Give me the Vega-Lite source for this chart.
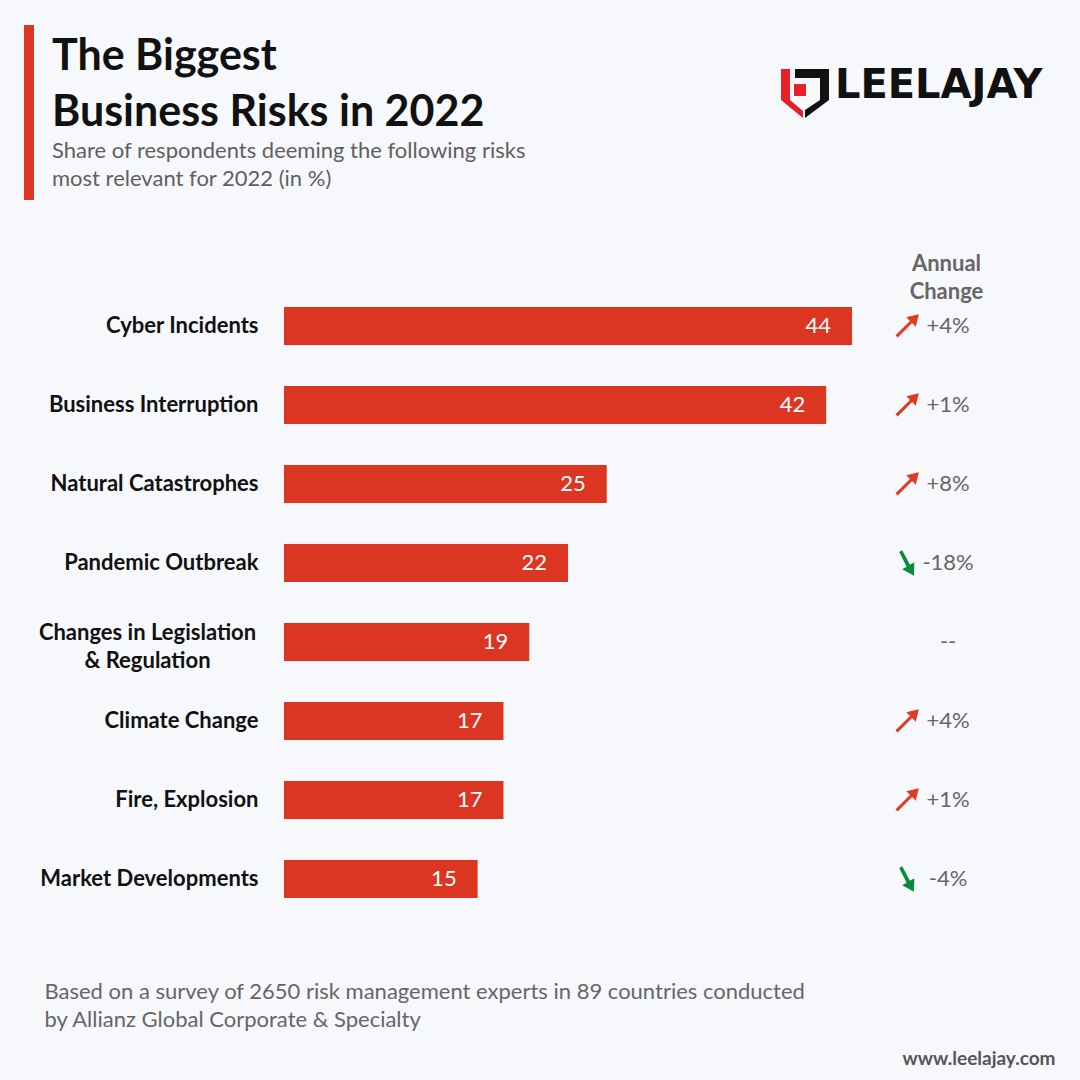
{
  "$schema": "https://vega.github.io/schema/vega-lite/v6.json",
  "width": 1080,
  "height": 1080,
  "autosize": "none",
  "padding": 0,
  "background": "#f7f8fc",
  "config": {"view": {"stroke": null}, "font": "Lato"},
  "title": {
    "text": ["The Biggest", "Business Risks in 2022"],
    "subtitle": ["Share of respondents deeming the following risks", "most relevant for 2022 (in %)"],
    "anchor": "start",
    "frame": "group",
    "orient": "top",
    "offset": -190,
    "dx": 52,
    "font": "Lato",
    "fontSize": 43,
    "fontWeight": "bold",
    "color": "#111111",
    "lineHeight": 56,
    "subtitleFont": "Lato",
    "subtitleFontSize": 22,
    "subtitleColor": "#5f5f5f",
    "subtitleLineHeight": 28,
    "subtitlePadding": 6
  },
  "datasets": {
    "risks": [
      {"risk": "Cyber Incidents", "value": 44, "change": "+4%", "trend": "up"},
      {"risk": "Business Interruption", "value": 42, "change": "+1%", "trend": "up"},
      {"risk": "Natural Catastrophes", "value": 25, "change": "+8%", "trend": "up"},
      {"risk": "Pandemic Outbreak", "value": 22, "change": "-18%", "trend": "down"},
      {"risk": "Changes in Legislation & Regulation", "value": 19, "change": "--", "trend": "none"},
      {"risk": "Climate Change", "value": 17, "change": "+4%", "trend": "up"},
      {"risk": "Fire, Explosion", "value": 17, "change": "+1%", "trend": "up"},
      {"risk": "Market Developments", "value": 15, "change": "-4%", "trend": "down"}
    ]
  },
  "data": {"name": "risks"},
  "resolve": {"axis": {"x": "independent", "y": "independent"}},
  "layer": [
    {
      "mark": {"type": "bar", "color": "#dc3522"},
      "encoding": {
        "y": {
          "field": "risk", "type": "nominal", "sort": null,
          "scale": {"range": [286.5, 918.5], "paddingInner": 0.519, "paddingOuter": 0.2595},
          "axis": {
            "orient": "left", "offset": -258, "domain": false, "ticks": false, "grid": false,
            "labelPadding": {"condition": {"test": "datum.value == 'Changes in Legislation & Regulation'", "value": 111}, "value": 0},
            "labelFont": "Lato", "labelFontSize": 22, "labelFontWeight": "bold",
            "labelColor": "#111111",
            "labelAlign": {"condition": {"test": "datum.value == 'Changes in Legislation & Regulation'", "value": "center"}, "value": "right"},
            "labelOffset": {"condition": {"test": "datum.value == 'Changes in Legislation & Regulation'", "value": -9}, "value": 0},
            "labelBaseline": "middle", "labelLineHeight": 28, "labelLimit": 400,
            "labelExpr": "datum.value == 'Changes in Legislation & Regulation' ? ['Changes in Legislation', '& Regulation'] : datum.label",
            "title": "LEELAJAY", "titleAngle": 0, "titleX": 784, "titleY": 97, "titleAlign": "right", "titleAnchor": null,
            "titleBaseline": "alphabetic", "titleFont": "DejaVu Sans", "titleFontSize": 40, "titleFontWeight": "bold", "titleColor": "#111111"
          }
        },
        "x": {
          "field": "value", "type": "quantitative",
          "scale": {"domain": [-22, 61.66], "nice": false, "zero": false},
          "axis": {
            "orient": "bottom", "domain": false, "ticks": false, "labels": false, "grid": false,
            "title": ["Based on a survey of 2650 risk management experts in 89 countries conducted", "by Allianz Global Corporate & Specialty"],
            "titleX": 44, "titleY": -82, "titleAlign": "left", "titleAnchor": null, "titleBaseline": "alphabetic",
            "titleFont": "Lato", "titleFontSize": 22, "titleFontWeight": "normal", "titleColor": "#666666", "titleLineHeight": 28
          }
        },
        "x2": {"datum": 0}
      }
    },
    {
      "mark": {"type": "text", "align": "right", "baseline": "middle", "dx": -21, "color": "#ffffff", "font": "Lato", "fontSize": 22},
      "encoding": {
        "y": {"field": "risk", "type": "nominal", "sort": null, "axis": null},
        "x": {"field": "value", "type": "quantitative", "axis": null},
        "text": {"field": "value"}
      }
    },
    {
      "mark": {"type": "text", "align": "center", "baseline": "middle", "color": "#666666", "font": "Lato", "fontSize": 22},
      "encoding": {
        "y": {
          "field": "risk", "type": "nominal", "sort": null,
          "axis": {
            "orient": "right", "domain": false, "ticks": false, "labels": false, "grid": false,
            "title": "www.leelajay.com", "titleAngle": 0, "titleX": -25, "titleY": 1064, "titleAlign": "right", "titleAnchor": null,
            "titleBaseline": "alphabetic", "titleFont": "Lato", "titleFontSize": 19, "titleFontWeight": "bold", "titleColor": "#555555"
          }
        },
        "x": {
          "datum": 51.44, "type": "quantitative",
          "axis": {
            "orient": "top", "domain": false, "ticks": false, "labels": false, "grid": false,
            "title": ["Annual", "Change"], "titleX": 946, "titleY": 270, "titleAlign": "center", "titleAnchor": null,
            "titleBaseline": "alphabetic", "titleFont": "Lato", "titleFontSize": 22, "titleFontWeight": "bold",
            "titleColor": "#666666", "titleLineHeight": 28
          }
        },
        "text": {"field": "change"}
      }
    },
    {
      "transform": [{"filter": "datum.trend == 'up'"}],
      "mark": {"type": "point", "shape": "M 1 -1 L 0.74 0.06 L 0.43 -0.25 L -0.79 0.97 L -0.97 0.79 L 0.25 -0.43 L -0.06 -0.74 Z", "filled": true, "color": "#e03a25", "opacity": 1, "size": 560, "strokeWidth": 0},
      "encoding": {
        "y": {"field": "risk", "type": "nominal", "sort": null, "axis": null},
        "x": {"datum": 48.26, "type": "quantitative", "axis": null}
      }
    },
    {
      "transform": [{"filter": "datum.trend == 'down'"}],
      "mark": {"type": "point", "shape": "M 0.55 1 L -0.38 0.5 L -0.03 0.3 L -0.62 -0.86 L -0.38 -1 L 0.23 0.14 L 0.58 -0.06 Z", "filled": true, "color": "#0a8a3c", "opacity": 1, "size": 640, "strokeWidth": 0},
      "encoding": {
        "y": {"field": "risk", "type": "nominal", "sort": null, "axis": null},
        "x": {"datum": 48.26, "type": "quantitative", "axis": null}
      }
    },
    {
      "data": {"values": [{}]},
      "mark": {"type": "rect", "color": "#dc3522"},
      "encoding": {"x": {"value": 24}, "x2": {"value": 34}, "y": {"value": 25}, "y2": {"value": 200}}
    },
    {
      "data": {"values": [{}]},
      "mark": {"type": "point", "shape": "M -0.96 -0.96 L -0.6 -0.96 L -0.6 0.28 L -0.08 0.72 L -0.08 1 L -0.96 0.28 Z M -0.44 -0.36 L 0.04 -0.36 L 0.04 0.12 L -0.44 0.12 Z", "filled": true, "color": "#e8202a", "opacity": 1, "size": 2500, "strokeWidth": 0},
      "encoding": {"x": {"value": 805}, "y": {"value": 93}}
    },
    {
      "data": {"values": [{}]},
      "mark": {"type": "point", "shape": "M -0.4 -0.96 L 0.96 -0.96 L 0.96 0.28 L 0 1 L 0 0.68 L 0.6 0.28 L 0.6 -0.6 L -0.4 -0.6 Z", "filled": true, "color": "#111111", "opacity": 1, "size": 2500, "strokeWidth": 0},
      "encoding": {"x": {"value": 805}, "y": {"value": 93}}
    }
  ]
}
